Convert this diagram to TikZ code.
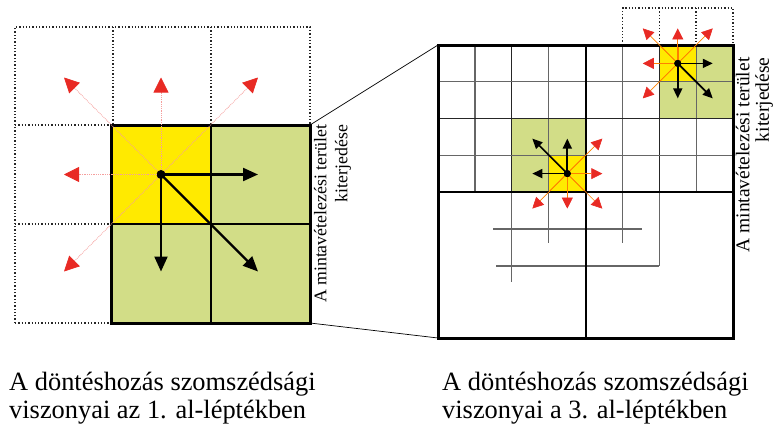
\documentclass[tikz,border=0pt]{standalone}
\usepackage{fontspec}
\setmainfont{Liberation Serif}
\usepackage{tikz}
\usetikzlibrary{arrows.meta}

\definecolor{cellgreen}{RGB}{210,221,135}
\definecolor{cellyellow}{RGB}{255,234,0}
\definecolor{tipred}{RGB}{232,42,36}

\tikzstyle{frame} = [draw, line width=3pt, inner sep=0pt, outer sep=0pt]
\tikzstyle{divider} = [draw, line width=2.4pt]
\tikzstyle{gridline} = [draw, black!60, line width=1.2pt]
\tikzstyle{griddark} = [draw, black!85, line width=1.3pt]
\tikzstyle{ghost} = [draw, black!85, dotted, line width=1.3pt]
\tikzstyle{zoomline} = [draw, line width=0.7pt]
\tikzstyle{dot} = [circle, fill, inner sep=0pt, minimum size=9pt]
\tikzstyle{smalldot} = [circle, fill, inner sep=0pt, minimum size=7pt]
\tikzstyle{move} = [draw, line width=2.2pt, -{Triangle[length=15pt,width=13pt]}]
\tikzstyle{smallmove} = [draw, line width=1.7pt, -{Triangle[length=10pt,width=9pt]}]
\tikzstyle{stay} = [draw, tipred!45, densely dotted, line width=0.8pt,
    -{Triangle[length=15pt,width=15pt,color=tipred]}]
\tikzstyle{smallstay} = [draw, orange, line width=0.6pt,
    -{Triangle[length=11pt,width=11pt,color=tipred]}]
\tikzstyle{caption} = [align=left, inner sep=0pt, anchor=north west,
    font=\fontsize{26.4}{28}\selectfont]

\begin{document}
\begin{tikzpicture}[x=1pt, y=-1pt]
    \useasboundingbox (0,0) rectangle (775,423);

    % 1. al-lepték: cells
    \fill[cellgreen] (111,125) rectangle (310,323);
    \fill[cellyellow] (111,125) rectangle (211,224);
    \draw[ghost] (15,323) -- (15,27) -- (310,27) -- (310,125);
    \foreach \x in {113,211}
        \draw[ghost] (\x,27) -- (\x,125);
    \foreach \y in {125,224,323}
        \draw[ghost] (15,\y) -- (111,\y);
    \draw[divider] (211,125) -- (211,323);
    \draw[divider] (111,224) -- (310,224);
    \node[frame, minimum width=199pt, minimum height=198pt] (win1) at (210.5,224) {};

    % 1. al-lepték: moves from the centre cell
    \node[dot] (c1) at (161,174.5) {};
    \foreach \n/\dx/\dy in {e/1/0, s/0/1, se/1/1, n/0/-1, w/-1/0, nw/-1/-1, ne/1/-1, sw/-1/1}
        \coordinate (c1-\n) at ([shift={(\dx*97,\dy*97)}]c1.center);
    \foreach \n in {n,w,nw,ne,sw}
        \path[stay] (c1) -- (c1-\n);
    \foreach \n in {e,s,se}
        \path[move] (c1.center) -- (c1-\n);

    % 3. al-lepték: cells
    \fill[cellgreen] (659.4,45) rectangle (733,118.5);
    \fill[cellyellow] (659.4,45) rectangle (696.1,81.75);
    \fill[cellgreen] (511.75,118.5) rectangle (586,192);
    \fill[cellyellow] (548.6,155.25) rectangle (586,192);
    \foreach \a/\b in {659.4/45, 548.6/155.25}
        \foreach \u/\v in {0/0, 0.5/0, 1/0, 1/0.5, 1/1, 0.5/1, 0/1, 0/0.5}
            \draw[orange, line width=0.6pt] (\a+18.4,\b+18.4) -- (\a+\u*36.8,\b+\v*36.8);
    \foreach \x in {474.9,548.6,622.6,696.1}
        \draw[gridline] (\x,45) -- (\x,192);
    \foreach \x in {511.75,659.4}
        \draw[griddark] (\x,45) -- (\x,192);
    \foreach \y in {81.75,155.25}
        \draw[gridline] (438,\y) -- (733,\y);
    \draw[griddark] (438,118.5) -- (733,118.5);
    % lines running on into the lower half
    \draw[gridline] (511.75,192) -- (511.75,282);
    \draw[gridline] (548.6,192) -- (548.6,243);
    \draw[gridline] (622.6,192) -- (622.6,243);
    \draw[gridline] (659.4,192) -- (659.4,266);
    \draw[gridline] (493,229) -- (642,229);
    \draw[gridline] (496,266) -- (659.4,266);
    \draw[ghost] (622.6,45) -- (622.6,8) -- (733,8) -- (733,45);
    \foreach \x in {659.4,696.1}
        \draw[ghost] (\x,8) -- (\x,45);
    \draw[divider] (586,45) -- (586,338);
    \draw[divider] (438,192) -- (733,192);
    \node[frame, minimum width=295pt, minimum height=293pt] (win3) at (585.5,191.5) {};

    % 3. al-lepték: moves
    \node[smalldot] (c3a) at (677.75,63.4) {};
    \node[smalldot] (c3b) at (567.3,173.6) {};
    \foreach \n/\dx/\dy in {e/1/0, s/0/1, se/1/1, n/0/-1, w/-1/0, nw/-1/-1, ne/1/-1, sw/-1/1}
    {
        \coordinate (c3a-\n) at ([shift={(\dx*35,\dy*35)}]c3a.center);
        \coordinate (c3b-\n) at ([shift={(\dx*35,\dy*35)}]c3b.center);
    }
    \foreach \n in {n,w,nw,ne,sw}
        \path[smallstay] (c3a) -- (c3a-\n);
    \foreach \n in {e,s,se}
        \path[smallmove] (c3a.center) -- (c3a-\n);
    \foreach \n in {e,ne,s,sw,se}
        \path[smallstay] (c3b) -- (c3b-\n);
    \foreach \n in {n,w,nw}
        \path[smallmove] (c3b.center) -- (c3b-\n);
    \node[smalldot] at (c3a) {};
    \node[smalldot] at (c3b) {};

    % Draw edges between the two windows
    \path[zoomline] (win1.north east) -- (win3.north west);
    \path[zoomline] (win1.south east) -- (win3.south west);

    % Labels
    \node[rotate=90, align=right, inner sep=0pt, font=\fontsize{17.8}{21}\selectfont]
        (tag1) at (332.5,214) {A mintavételezési terület\\kiterjedése};
    \node[rotate=90, align=right, inner sep=0pt, font=\fontsize{19.5}{19.5}\selectfont]
        (tag3) at (754.5,155) {A mintavételezési terület\\kiterjedése};
    \node[caption] (cap1) at (9,372) {A döntéshozás szomszédsági\\viszonyai az 1. al-léptékben};
    \node[caption] (cap3) at (442,372) {A döntéshozás szomszédsági\\viszonyai a 3. al-léptékben};
\end{tikzpicture}
\end{document}
